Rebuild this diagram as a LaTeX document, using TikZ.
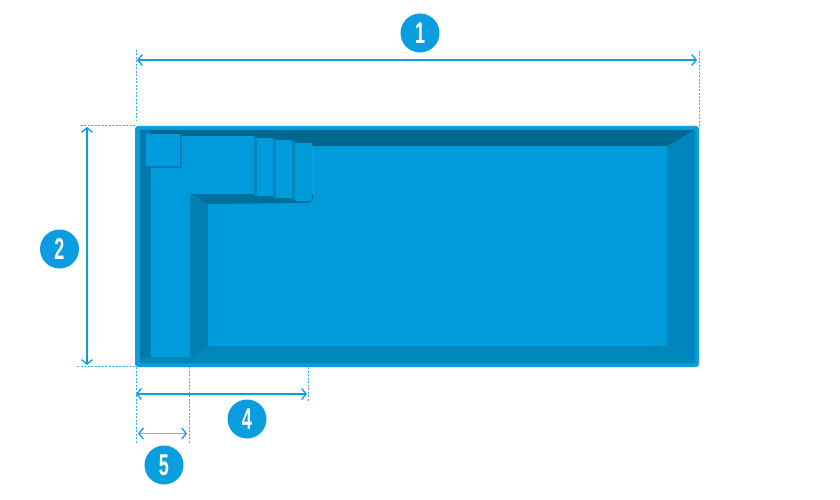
\documentclass[tikz,border=0pt]{standalone}
\usepackage{fontspec}
\setmainfont{Liberation Sans}
\usetikzlibrary{arrows.meta}
\definecolor{poolblue}{HTML}{009BDB}
\definecolor{badgeblue}{HTML}{0A9EE0}
\definecolor{rimblue}{HTML}{0C9DDA}
\definecolor{walltop}{HTML}{00688F}
\definecolor{wallside}{HTML}{0085BF}
\definecolor{wallbottom}{HTML}{0088BA}
\definecolor{wallleft}{HTML}{0079AC}
\definecolor{wallinner}{HTML}{007FB0}
\definecolor{stepline}{HTML}{0384B9}
\definecolor{linelight}{HTML}{5CC3F0}
\definecolor{linedash}{HTML}{35B0EA}
\begin{document}
\begin{tikzpicture}[
    x=1pt, y=-1pt,
    badge/.style={circle, fill=badgeblue, draw=none, minimum size=39pt, inner sep=0pt, text=white, font=\fontsize{30}{30}\selectfont\bfseries},
    dimline/.style={draw=badgeblue, line width=1.2pt, {Straight Barb[length=4.5pt,width=11pt,line width=1.3pt,color=badgeblue]}-{Straight Barb[length=4.5pt,width=11pt,line width=1.3pt,color=badgeblue]}},
    extline/.style={draw=linedash, line width=1pt, dash pattern=on 2pt off 1.5pt}
]
\useasboundingbox (0,0) rectangle (840,500);

% pool shell
\fill[rimblue, rounded corners=3pt] (135,126) rectangle (699,367);
\fill[wallside] (667,146) -- (695,131) -- (695,363) -- (667,346) -- cycle;
\fill[wallbottom] (140,346) -- (667,346) -- (695,363) -- (140,363) -- cycle;
\fill[walltop] (140,130) -- (695,130) -- (667,146) -- (140,146) -- cycle;
\fill[wallleft] (140,130) rectangle (151,358);
\fill[wallinner] (190,195) -- (208,204) -- (208,346) -- (190,357) -- cycle;
\fill[walltop!85!poolblue] (190,194) -- (313,194) -- (313,203) -- (208,204) -- cycle;

% floor
\fill[poolblue] (208,204) -- (308,204) -- (314,198) -- (314,146) -- (667,146) -- (667,346) -- (208,346) -- cycle;

% bench and steps
\fill[poolblue] (151,166) rectangle (190,357);
\fill[poolblue] (181,136) rectangle (254,194);
\fill[stepline] (254,137) rectangle (257,196);
\fill[poolblue] (257,138) rectangle (273,196);
\fill[stepline] (273,139) rectangle (276,198);
\fill[poolblue] (276,140) rectangle (292,198);
\fill[stepline] (292,141) rectangle (295,200);
\fill[poolblue] (295,143) -- (312,143) [rounded corners=3pt] -- (312,201) [sharp corners] -- (295,201) -- cycle;
\fill[wallleft] (146,134) rectangle (182,168);
\fill[poolblue] (146,134) rectangle (180,166);

% end points
\coordinate (widthA) at (137,60);
\coordinate (widthB) at (697,60);
\coordinate (widthAtop) at (136,50);
\coordinate (widthAbot) at (136,121);
\coordinate (widthBtop) at (699,51);
\coordinate (widthBbot) at (699,126);
\coordinate (depthA) at (87,127);
\coordinate (depthB) at (87,365);
\coordinate (depthAend) at (79,126);
\coordinate (depthAstart) at (135,126);
\coordinate (depthBend) at (77,366);
\coordinate (depthBstart) at (135,366);
\coordinate (stepsA) at (136,394);
\coordinate (stepsB) at (307,394);
\coordinate (stepsBtop) at (308,367);
\coordinate (stepsBbot) at (308,402);
\coordinate (benchA) at (138,433.5);
\coordinate (benchB) at (187,433.5);
\coordinate (edgeAtop) at (136,367);
\coordinate (edgeAbot) at (136,444);
\coordinate (edgeBtop) at (189,367);
\coordinate (edgeBbot) at (189,444);

% dimensions
\draw[dimline] (widthA) -- (widthB);
\draw[dimline] (depthA) -- (depthB);
\draw[dimline] (stepsA) -- (stepsB);
\draw[dimline, draw=linelight, line width=1.7pt] (benchA) -- (benchB);
\draw[extline] (widthAtop) -- (widthAbot);
\draw[extline] (widthBtop) -- (widthBbot);
\draw[extline] (depthAstart) -- (depthAend);
\draw[extline] (depthBstart) -- (depthBend);
\draw[extline] (stepsBtop) -- (stepsBbot);
\draw[extline] (edgeAtop) -- (edgeAbot);
\draw[extline] (edgeBtop) -- (edgeBbot);

% badges
\node[badge] (one) at (420,33) {\scalebox{.6}[1]{1}};
\node[badge] (two) at (59.5,249) {\scalebox{.6}[1]{2}};
\node[badge] (four) at (247,419) {\scalebox{.6}[1]{4}};
\node[badge] (five) at (164,465) {\scalebox{.6}[1]{5}};
\end{tikzpicture}
\end{document}
